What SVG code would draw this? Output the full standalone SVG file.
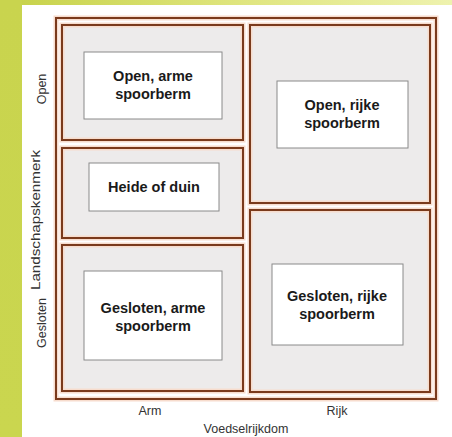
<svg xmlns="http://www.w3.org/2000/svg" width="452" height="437" viewBox="0 0 452 437">
<defs>
<linearGradient id="topg" x1="0" y1="0" x2="1" y2="0">
<stop offset="0" stop-color="#c8d34c"/>
<stop offset="0.5" stop-color="#dfe57e"/>
<stop offset="1" stop-color="#eef2ae"/>
</linearGradient>
<linearGradient id="leftg" x1="0" y1="0" x2="0" y2="1">
<stop offset="0" stop-color="#c9d44e"/>
<stop offset="1" stop-color="#cad64f"/>
</linearGradient>
</defs>
<style>
.halo{fill:none;stroke:#f7dccd;stroke-width:5}
.edge{fill:none;stroke:#7a3a1c;stroke-width:2}
.cell{fill:#edebeb}
.box{fill:#ffffff;stroke:#8a8a8a;stroke-width:1}
.lbl{font-family:"Liberation Sans",Arial,sans-serif;font-weight:bold;font-size:14.5px;fill:#1a1a1a;text-anchor:middle}
.ax{font-family:"Liberation Sans",Arial,sans-serif;font-size:12.5px;fill:#333333;text-anchor:middle}
</style>
<rect x="0" y="0" width="452" height="437" fill="url(#leftg)"/>
<rect x="22" y="0" width="430" height="5" fill="url(#topg)"/>
<rect x="22" y="5" width="430" height="432" fill="#ffffff"/>

<g id="frame">
<rect class="halo" x="56" y="18" width="380" height="381"/>
<rect class="edge" x="56" y="18" width="380" height="381"/>
</g>

<g id="cell-open-arm">
<rect class="cell" x="62" y="25" width="181" height="115"/>
<rect class="halo" x="62" y="25" width="181" height="115"/>
<rect class="edge" x="62" y="25" width="181" height="115"/>
<rect class="box" x="84" y="52" width="138" height="67"/>
<text class="lbl" x="153" y="81">Open, arme</text>
<text class="lbl" x="153" y="99">spoorberm</text>
</g>

<g id="cell-heide">
<rect class="cell" x="62" y="148" width="181" height="90"/>
<rect class="halo" x="62" y="148" width="181" height="90"/>
<rect class="edge" x="62" y="148" width="181" height="90"/>
<rect class="box" x="89" y="163" width="130" height="48"/>
<text class="lbl" x="154" y="192">Heide of duin</text>
</g>

<g id="cell-gesloten-arm">
<rect class="cell" x="62" y="245" width="181" height="146"/>
<rect class="halo" x="62" y="245" width="181" height="146"/>
<rect class="edge" x="62" y="245" width="181" height="146"/>
<rect class="box" x="84" y="271" width="138" height="89"/>
<text class="lbl" x="153" y="313">Gesloten, arme</text>
<text class="lbl" x="153" y="331">spoorberm</text>
</g>

<g id="cell-open-rijk">
<rect class="cell" x="250" y="25" width="180" height="178"/>
<rect class="halo" x="250" y="25" width="180" height="178"/>
<rect class="edge" x="250" y="25" width="180" height="178"/>
<rect class="box" x="277" y="81" width="131" height="67"/>
<text class="lbl" x="342" y="110">Open, rijke</text>
<text class="lbl" x="342" y="128">spoorberm</text>
</g>

<g id="cell-gesloten-rijk">
<rect class="cell" x="250" y="210" width="180" height="182"/>
<rect class="halo" x="250" y="210" width="180" height="182"/>
<rect class="edge" x="250" y="210" width="180" height="182"/>
<rect class="box" x="272" y="264" width="131" height="81"/>
<text class="lbl" x="337" y="301">Gesloten, rijke</text>
<text class="lbl" x="337" y="319">spoorberm</text>
</g>

<g id="axes">
<text class="ax" transform="translate(46,89) rotate(-90)">Open</text>
<text class="ax" transform="translate(40,220) rotate(-90)" textLength="140" lengthAdjust="spacingAndGlyphs">Landschapskenmerk</text>
<text class="ax" transform="translate(46,323) rotate(-90)">Gesloten</text>
<text class="ax" x="150" y="415">Arm</text>
<text class="ax" x="337" y="415">Rijk</text>
<text class="ax" x="246" y="433">Voedselrijkdom</text>
</g>
<g id="connectors"/>
</svg>
